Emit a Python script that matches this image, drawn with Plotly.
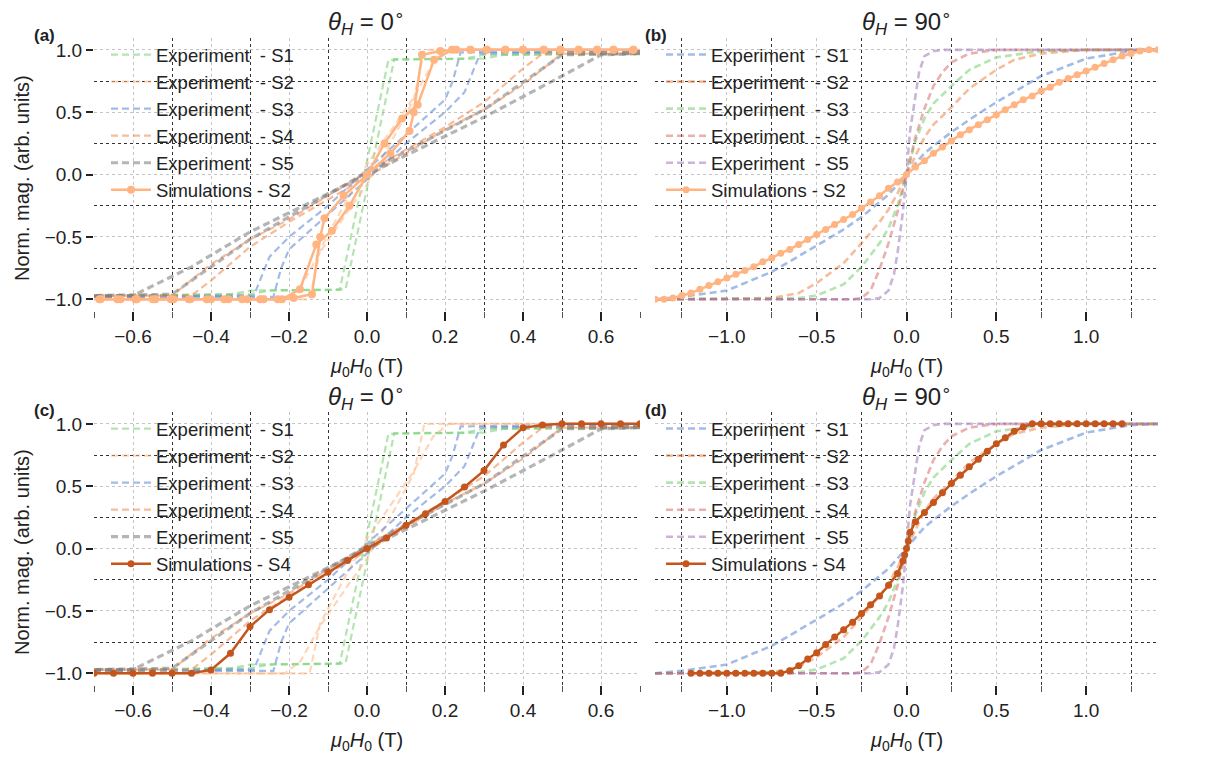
import plotly.graph_objects as go

# ---------------- data: theta_H = 0 deg experiments (two sweep branches, separated by None) ----------------
s1_x0 = [-0.7, -0.3, -0.25, -0.07, 0.055, 0.3, 0.35, 0.7, None,
         0.7, 0.3, 0.25, 0.07, -0.055, -0.3, -0.35, -0.7]
s1_y0 = [-0.97, -0.96, -0.93, -0.925, 0.92, 0.93, 0.96, 0.97, None,
         0.97, 0.96, 0.93, 0.925, -0.92, -0.93, -0.96, -0.97]
s2_x0 = [0.7, 0.21, 0.17, 0.12, 0.05, 0.0, -0.06, -0.12, -0.147, -0.7, None,
         -0.7, -0.21, -0.17, -0.12, -0.05, 0.0, 0.06, 0.12, 0.147, 0.7]
s2_y0 = [1.0, 1.0, 0.9, 0.62, 0.3, 0.08, -0.25, -0.6, -1.0, -1.0, None,
         -1.0, -1.0, -0.9, -0.62, -0.3, -0.08, 0.25, 0.6, 1.0, 1.0]
s3_x0 = [0.7, 0.24, 0.22, 0.2, 0.1, 0.0, -0.1, -0.2, -0.25, -0.29, -0.7, None,
         -0.7, -0.24, -0.22, -0.2, -0.1, 0.0, 0.1, 0.2, 0.25, 0.29, 0.7]
s3_y0 = [0.99, 0.98, 0.75, 0.6, 0.32, 0.04, -0.25, -0.5, -0.66, -0.97, -0.98, None,
         -0.98, -0.98, -0.75, -0.6, -0.32, -0.04, 0.25, 0.5, 0.66, 0.97, 0.99]
s4_x0 = [0.7, 0.45, 0.4, 0.3, 0.2, 0.0, -0.2, -0.3, -0.4, -0.5, -0.7, None,
         -0.7, -0.45, -0.4, -0.3, -0.2, 0.0, 0.2, 0.3, 0.4, 0.5, 0.7]
s4_y0 = [0.98, 0.97, 0.85, 0.58, 0.38, 0.02, -0.36, -0.52, -0.72, -0.97, -0.97, None,
         -0.98, -0.97, -0.85, -0.58, -0.38, -0.02, 0.36, 0.52, 0.72, 0.97, 0.97]
s5_x0 = [-0.7, -0.6, -0.45, -0.3, 0.0, 0.3, 0.5, 0.6, 0.7, None,
         0.7, 0.5, 0.3, 0.0, -0.3, -0.5, -0.7]
s5_y0 = [-0.97, -0.97, -0.74, -0.46, 0.0, 0.46, 0.79, 0.96, 0.97, None,
         0.97, 0.96, 0.52, 0.02, -0.52, -0.96, -0.97]

# simulation S2, theta 0 (ascending then descending)
sim2_x0 = [-0.686, -0.640, -0.594, -0.549, -0.503, -0.457, -0.411, -0.366, -0.320, -0.274,
           -0.229, -0.188, -0.141, -0.120, -0.109, -0.060, 0.0, 0.045, 0.090, 0.130,
           0.172, 0.218, 0.265, 0.307, 0.355, 0.400, 0.453, 0.496, 0.543, 0.590, 0.632, 0.683, None,
           0.683, 0.632, 0.590, 0.543, 0.496, 0.453, 0.400, 0.355, 0.307, 0.265,
           0.229, 0.188, 0.141, 0.120, 0.109, 0.060, 0.0, -0.045, -0.090, -0.130,
           -0.172, -0.218, -0.265, -0.307, -0.355, -0.400, -0.453, -0.496, -0.543, -0.590, -0.632, -0.683]
sim2_y0 = [-1.0, -1.0, -1.0, -1.0, -1.0, -1.0, -1.0, -1.0, -1.0, -1.0,
           -1.0, -0.99, -0.96, -0.50, -0.35, -0.17, 0.0, 0.25, 0.45, 0.56,
           0.92, 1.0, 1.0, 1.0, 1.0, 1.0, 1.0, 1.0, 1.0, 1.0, 1.0, 1.0, None,
           1.0, 1.0, 1.0, 1.0, 1.0, 1.0, 1.0, 1.0, 1.0, 1.0,
           1.0, 0.99, 0.96, 0.50, 0.35, 0.17, 0.0, -0.25, -0.45, -0.56,
           -0.92, -1.0, -1.0, -1.0, -1.0, -1.0, -1.0, -1.0, -1.0, -1.0, -1.0, -1.0]

# simulation S4, theta 0
sim4_x0 = [-0.70, -0.65, -0.60, -0.55, -0.50, -0.45, -0.40, -0.35, -0.30, -0.25, -0.20, -0.15,
           -0.10, -0.05, 0.00, 0.05, 0.10, 0.15, 0.20, 0.25, 0.30, 0.35, 0.40, 0.45, 0.50,
           0.55, 0.60, 0.65, 0.70]
sim4_y0 = [-1.0, -1.0, -1.0, -1.0, -1.0, -1.0, -0.973, -0.84, -0.625, -0.49, -0.39, -0.29,
           -0.19, -0.095, 0.0, 0.085, 0.186, 0.28, 0.378, 0.494, 0.625, 0.83, 0.968, 0.99, 1.0,
           1.0, 1.0, 1.0, 1.0]

# ---------------- data: theta_H = 90 deg experiments ----------------
s1_x90 = [-1.4, -1.25, -1.0, -0.75, -0.5, -0.35, -0.25, -0.15, -0.1, -0.05, 0.0,
          0.05, 0.1, 0.15, 0.25, 0.35, 0.5, 0.75, 1.0, 1.25, 1.4]
s1_y90 = [-1.0, -0.98, -0.93, -0.78, -0.57, -0.44, -0.34, -0.22, -0.16, -0.08, 0.0,
          0.09, 0.17, 0.23, 0.34, 0.44, 0.58, 0.79, 0.93, 0.99, 1.0]
s2_x90 = [-1.4, -0.75, -0.6, -0.5, -0.35, -0.25, -0.15, -0.1, -0.05, 0.0,
          0.05, 0.1, 0.15, 0.25, 0.35, 0.5, 0.6, 0.75, 1.0, 1.4]
s2_y90 = [-1.0, -0.99, -0.95, -0.87, -0.71, -0.55, -0.38, -0.28, -0.15, 0.0,
          0.15, 0.3, 0.4, 0.54, 0.69, 0.84, 0.92, 0.97, 1.0, 1.0]
s3_x90 = [-1.4, -0.6, -0.5, -0.35, -0.25, -0.15, -0.1, -0.05, 0.0,
          0.05, 0.1, 0.15, 0.25, 0.35, 0.5, 0.75, 1.0, 1.4]
s3_y90 = [-1.0, -0.99, -0.97, -0.88, -0.74, -0.55, -0.43, -0.25, 0.0,
          0.27, 0.45, 0.57, 0.71, 0.84, 0.94, 0.99, 1.0, 1.0]
s4_x90 = [-1.4, -0.3, -0.25, -0.2, -0.15, -0.1, -0.05, 0.0,
          0.05, 0.1, 0.15, 0.2, 0.25, 0.35, 0.5, 1.4]
s4_y90 = [-1.0, -1.0, -0.99, -0.93, -0.76, -0.55, -0.3, 0.0,
          0.3, 0.53, 0.71, 0.82, 0.9, 0.97, 1.0, 1.0]
s5_x90 = [-1.4, -0.2, -0.15, -0.1, -0.07, -0.05, -0.02, -0.005, 0.0,
          0.005, 0.02, 0.05, 0.07, 0.1, 0.15, 0.2, 1.4]
s5_y90 = [-1.0, -1.0, -0.99, -0.93, -0.8, -0.63, -0.3, -0.1, 0.0,
          0.1, 0.35, 0.63, 0.82, 0.95, 0.99, 1.0, 1.0]

sim2_x90 = [-1.40, -1.35, -1.30, -1.25, -1.20, -1.15, -1.10, -1.05, -1.00, -0.95, -0.90, -0.85,
            -0.80, -0.75, -0.70, -0.65, -0.60, -0.55, -0.50, -0.45, -0.40, -0.35, -0.30, -0.25,
            -0.20, -0.15, -0.10, -0.05, 0.00, 0.05, 0.10, 0.15, 0.20, 0.25, 0.30, 0.35, 0.40,
            0.45, 0.50, 0.55, 0.60, 0.65, 0.70, 0.75, 0.80, 0.85, 0.90, 0.95, 1.00, 1.05, 1.10,
            1.15, 1.20, 1.25, 1.30, 1.35, 1.40]
sim2_y90 = [-1.00, -1.00, -0.99, -0.97, -0.95, -0.92, -0.89, -0.86, -0.83, -0.80, -0.77, -0.74,
            -0.70, -0.67, -0.63, -0.60, -0.56, -0.52, -0.48, -0.44, -0.40, -0.36, -0.32, -0.27,
            -0.22, -0.17, -0.11, -0.06, 0.00, 0.06, 0.11, 0.17, 0.22, 0.27, 0.32, 0.36, 0.40,
            0.44, 0.48, 0.52, 0.56, 0.60, 0.63, 0.67, 0.70, 0.74, 0.77, 0.80, 0.83, 0.86, 0.89,
            0.92, 0.95, 0.97, 0.99, 1.00, 1.00]

sim4_x90 = [-1.20, -1.15, -1.10, -1.05, -1.00, -0.95, -0.90, -0.85, -0.80, -0.75, -0.70, -0.65,
            -0.60, -0.55, -0.50, -0.45, -0.40, -0.35, -0.30, -0.25, -0.20, -0.15, -0.10, -0.05,
            -0.02, -0.01, 0.00, 0.01, 0.02, 0.05, 0.10, 0.15, 0.20, 0.25, 0.30, 0.35, 0.40, 0.45,
            0.50, 0.55, 0.60, 0.65, 0.70, 0.75, 0.80, 0.85, 0.90, 0.95, 1.00, 1.05, 1.10, 1.15, 1.20]
sim4_y90 = [-1.0, -1.0, -1.0, -1.0, -1.0, -1.0, -1.0, -1.0, -1.0, -1.0, -1.0, -0.98,
            -0.94, -0.885, -0.835, -0.77, -0.71, -0.65, -0.59, -0.52, -0.45, -0.38, -0.295, -0.2,
            -0.1, -0.05, 0.0, 0.06, 0.13, 0.215, 0.29, 0.37, 0.448, 0.522, 0.588, 0.655, 0.716, 0.78,
            0.84, 0.889, 0.94, 0.974, 1.0, 1.0, 1.0, 1.0, 1.0, 1.0, 1.0, 1.0, 1.0, 1.0, 1.0]

# ---------------- styles ----------------
FONT = "Liberation Sans, Arial, sans-serif"
GREEN = "rgba(106,204,100,0.5)"
BLUE = "rgba(72,120,208,0.5)"
ORANGE = "rgba(238,133,74,0.55)"
RED = "rgba(214,95,95,0.5)"
PURPLE = "rgba(149,108,180,0.5)"
GRAY = "rgba(121,121,121,0.55)"
PEACH = "rgba(255,180,130,0.55)"
SIMLIGHT = "#FFB482"
SIMDARK = "#C4561D"
DASH = "7px,4px"

fig = go.Figure()


def exp_trace(x, y, color, name, ax, legend, width=2.2):
    fig.add_trace(go.Scatter(x=x, y=y, mode="lines", name=name,
                             line=dict(color=color, width=width, dash=DASH),
                             xaxis=ax[0], yaxis=ax[1], legend=legend))


def sim_trace(x, y, color, name, ax, legend, msize):
    fig.add_trace(go.Scatter(x=x, y=y, mode="lines+markers", name=name,
                             line=dict(color=color, width=2.5),
                             marker=dict(color=color, size=msize),
                             xaxis=ax[0], yaxis=ax[1], legend=legend))


EXP = "Experiment\u00a0 - "
# panel a
A = ("x", "y")
exp_trace(s1_x0, s1_y0, GREEN, EXP + "S1", A, "legend")
exp_trace(s2_x0, s2_y0, PEACH, EXP + "S2", A, "legend")
exp_trace(s3_x0, s3_y0, BLUE, EXP + "S3", A, "legend")
exp_trace(s4_x0, s4_y0, ORANGE, EXP + "S4", A, "legend")
exp_trace(s5_x0, s5_y0, GRAY, EXP + "S5", A, "legend", width=3.2)
sim_trace(sim2_x0, sim2_y0, SIMLIGHT, "Simulations - S2", A, "legend", 8)
# panel b
B = ("x2", "y2")
exp_trace(s1_x90, s1_y90, BLUE, EXP + "S1", B, "legend2", 2.6)
exp_trace(s2_x90, s2_y90, ORANGE, EXP + "S2", B, "legend2", 2.6)
exp_trace(s3_x90, s3_y90, GREEN, EXP + "S3", B, "legend2", 2.6)
exp_trace(s4_x90, s4_y90, RED, EXP + "S4", B, "legend2", 2.6)
exp_trace(s5_x90, s5_y90, PURPLE, EXP + "S5", B, "legend2", 2.6)
sim_trace(sim2_x90, sim2_y90, SIMLIGHT, "Simulations - S2", B, "legend2", 7)
# panel c
C = ("x3", "y3")
exp_trace(s1_x0, s1_y0, GREEN, EXP + "S1", C, "legend3")
exp_trace(s2_x0, s2_y0, PEACH, EXP + "S2", C, "legend3")
exp_trace(s3_x0, s3_y0, BLUE, EXP + "S3", C, "legend3")
exp_trace(s4_x0, s4_y0, ORANGE, EXP + "S4", C, "legend3")
exp_trace(s5_x0, s5_y0, GRAY, EXP + "S5", C, "legend3", width=3.2)
sim_trace(sim4_x0, sim4_y0, SIMDARK, "Simulations - S4", C, "legend3", 7)
# panel d
D = ("x4", "y4")
exp_trace(s1_x90, s1_y90, BLUE, EXP + "S1", D, "legend4", 2.6)
exp_trace(s2_x90, s2_y90, ORANGE, EXP + "S2", D, "legend4", 2.6)
exp_trace(s3_x90, s3_y90, GREEN, EXP + "S3", D, "legend4", 2.6)
exp_trace(s4_x90, s4_y90, RED, EXP + "S4", D, "legend4", 2.6)
exp_trace(s5_x90, s5_y90, PURPLE, EXP + "S5", D, "legend4", 2.6)
sim_trace(sim4_x90, sim4_y90, SIMDARK, "Simulations - S4", D, "legend4", 7)

W, H = 1205, 758
LX = [94 / W, 640 / W]
RX = [655 / W, 1158 / W]
R1 = [1 - 310.5 / H, 1 - 38 / H]
R2 = [1 - 684.5 / H, 1 - 412 / H]
YR = [-1.09, 1.095]
TICKFONT = dict(family=FONT, size=19, color="#222")


def xax(domain, rng, dtick, mdtick, anchor):
    return dict(domain=domain, range=rng, anchor=anchor, dtick=dtick, tick0=0,
                tickformat=".1f", ticks="outside", ticklen=9, tickwidth=1.6,
                tickcolor="#222", tickfont=TICKFONT, showgrid=True,
                gridcolor="#c4c4c4", griddash="dot", gridwidth=1,
                zeroline=False, showline=False, fixedrange=True,
                minor=dict(dtick=mdtick, tick0=0, ticks="outside", ticklen=6,
                           tickwidth=1, tickcolor="#555", showgrid=True,
                           gridcolor="#333", griddash="dot", gridwidth=1))


def yax(domain, anchor, labels):
    return dict(domain=domain, range=YR, anchor=anchor, dtick=0.5, tick0=0,
                tickformat=".1f", ticks="outside" if labels else "",
                ticklen=7, tickwidth=1.6, tickcolor="#222",
                showticklabels=labels, tickfont=TICKFONT, showgrid=True,
                gridcolor="#c4c4c4", griddash="dot", gridwidth=1,
                zeroline=False, showline=False, fixedrange=True,
                minor=dict(dtick=0.25, tick0=0, ticks="", showgrid=True,
                           gridcolor="#333", griddash="dot", gridwidth=1))


LEG = dict(font=dict(family=FONT, size=18.5, color="#222"), bgcolor="rgba(0,0,0,0)",
           xanchor="left", yanchor="top", tracegroupgap=0, itemwidth=40)

fig.update_layout(
    width=W, height=H, margin=dict(l=0, r=0, t=0, b=0),
    paper_bgcolor="white", plot_bgcolor="white",
    font=dict(family=FONT, size=19, color="#222"),
    xaxis=xax(LX, [-0.7, 0.7], 0.2, 0.1, "y"),
    yaxis=yax(R1, "x", True),
    xaxis2=xax(RX, [-1.4, 1.4], 0.5, 0.25, "y2"),
    yaxis2=yax(R1, "x2", False),
    xaxis3=xax(LX, [-0.7, 0.7], 0.2, 0.1, "y3"),
    yaxis3=yax(R2, "x3", True),
    xaxis4=xax(RX, [-1.4, 1.4], 0.5, 0.25, "y4"),
    yaxis4=yax(R2, "x4", False),
    legend=dict(LEG, x=106 / W, y=1 - 36 / H),
    legend2=dict(LEG, x=661 / W, y=1 - 36 / H),
    legend3=dict(LEG, x=106 / W, y=1 - 410 / H),
    legend4=dict(LEG, x=661 / W, y=1 - 410 / H),
)

XT = "<i>μ</i><sub>0</sub><i>H</i><sub>0</sub> (T)"
YT = "Norm. mag. (arb. units)"
ann = []
for cx, ty, lab, lbl_x, ang in [((94 + 640) / 2, 22, "(a)", 32, "0"), ((655 + 1158) / 2, 22, "(b)", 643, "90"),
                                ((94 + 640) / 2, 397, "(c)", 32, "0"), ((655 + 1158) / 2, 397, "(d)", 643, "90")]:
    ann.append(dict(x=cx / W, y=1 - ty / H, xref="paper", yref="paper", showarrow=False,
                    text="<i>θ</i><sub><i>H</i></sub> = " + ang + "<sup>∘</sup>",
                    font=dict(family=FONT, size=24, color="#222"), xanchor="center", yanchor="middle"))
    ann.append(dict(x=lbl_x / W, y=1 - (ty + 13) / H, xref="paper", yref="paper", showarrow=False,
                    text="<b>" + lab + "</b>", font=dict(family=FONT, size=17, color="#222"),
                    xanchor="left", yanchor="middle"))
for cx, ty in [((94 + 640) / 2, 367), ((655 + 1158) / 2, 367), ((94 + 640) / 2, 741), ((655 + 1158) / 2, 741)]:
    ann.append(dict(x=cx / W, y=1 - ty / H, xref="paper", yref="paper", showarrow=False, text=XT,
                    font=dict(family=FONT, size=20, color="#222"), xanchor="center", yanchor="middle"))
for cy in [178, 552]:
    ann.append(dict(x=22 / W, y=1 - cy / H, xref="paper", yref="paper", showarrow=False, text=YT,
                    textangle=-90, font=dict(family=FONT, size=20, color="#222"),
                    xanchor="center", yanchor="middle"))
fig.update_layout(annotations=ann)

fig.write_html("out.html")
